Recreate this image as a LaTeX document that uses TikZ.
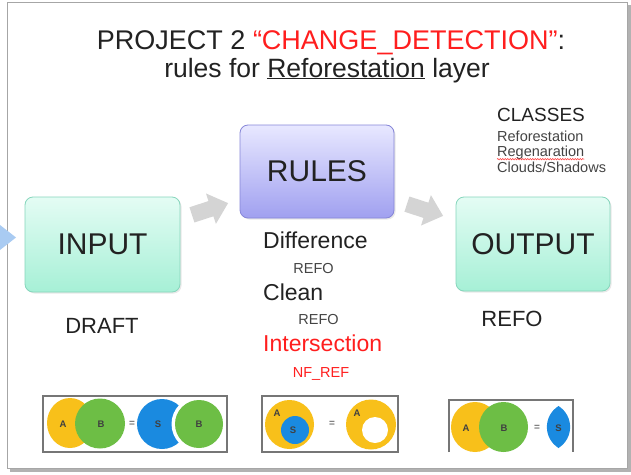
\documentclass[tikz,border=0pt]{standalone}
\usepackage{fontspec}
\setmainfont{Liberation Sans}
\usetikzlibrary{shadows,decorations.pathmorphing}
\definecolor{txt}{HTML}{222222}
\definecolor{txtsmall}{HTML}{444444}
\definecolor{redtxt}{HTML}{FF1E1E}
\definecolor{vyellow}{HTML}{F8C01A}
\definecolor{vgreen}{HTML}{6DBE45}
\definecolor{vblue}{HTML}{1A8AE0}
\definecolor{arrowgray}{HTML}{D4D4D4}
\definecolor{boxgray}{HTML}{767676}
\definecolor{mintTop}{HTML}{E4FCF4}
\definecolor{mintBot}{HTML}{A6F0D6}
\definecolor{mintLine}{HTML}{86D6BC}
\definecolor{lavTop}{HTML}{E8E8FF}
\definecolor{lavBot}{HTML}{A0A0F0}
\definecolor{lavLine}{HTML}{8686D8}
\definecolor{leftblue}{HTML}{A9CBF2}
\newcommand{\fs}[1]{\fontsize{#1}{#1}\selectfont}
\tikzset{
  greenbox/.style={draw=mintLine, line width=0.8pt, rounded corners=8pt,
    top color=mintTop, bottom color=mintBot,
    drop shadow={opacity=0.18, shadow xshift=1.5pt, shadow yshift=-1.5pt}},
  bluebox/.style={draw=lavLine, line width=0.8pt, rounded corners=8pt,
    top color=lavTop, bottom color=lavBot,
    drop shadow={opacity=0.18, shadow xshift=1.5pt, shadow yshift=-1.5pt}},
  boxlabel/.style={text=txt, font=\fs{30}},
  txtbig/.style={text=txt, font=\fs{22}, anchor=base},
  rulebig/.style={text=txt, font=\fs{23}, anchor=base west, inner sep=0pt},
  rulesmall/.style={text=txtsmall, font=\fs{14.5}, anchor=base},
  vennlbl/.style={text=black!75, font=\bfseries\fs{9.5}},
  venneq/.style={text=black!55, font=\bfseries\fs{10}},
  vennframe/.style={draw=boxgray, line width=1.4pt},
  blockarrow/.style={fill=arrowgray},
}
\begin{document}
\begin{tikzpicture}[x=1pt,y=-1pt]
\useasboundingbox (0,0) rectangle (631,474);
% slide frame with shadow
\fill[black!30] (10,5) rectangle (631,472);
\fill[white] (7,2) rectangle (627,468);
\draw[black!35, line width=1pt] (7,2) rectangle (627,468);
% partial blue arrow at left
\fill[leftblue] (0,225) -- (16,237.5) -- (0,250) -- cycle;

% title
\node[anchor=base, text=txt, font=\fs{27}] (title1) at (331,49)
  {PROJECT 2 \textcolor{redtxt}{“CHANGE\_DETECTION”}:};
\node[anchor=base, text=txt, font=\fs{26.5}] (title2) at (327,77)
  {rules for \underline{Reforestation} layer};

% main boxes
\path[greenbox] (25,197) rectangle (180,292);
\node[boxlabel] (input) at (102.5,244.5) {INPUT};
\path[bluebox] (240,125) rectangle (394,218);
\node[boxlabel] (rules) at (317,171.5) {RULES};
\path[greenbox] (456,197) rectangle (610,291);
\node[boxlabel] (output) at (533,244) {OUTPUT};

% gray block arrows
\coordinate (arr1) at (210,209);
\coordinate (arr2) at (425,210);
\begin{scope}[shift={(arr1)}, rotate=18]
  \fill[blockarrow] (-19,-8) -- (1,-8) -- (1,-16) -- (19,0) -- (1,16) -- (1,8) -- (-19,8) -- cycle;
\end{scope}
\begin{scope}[shift={(arr2)}, rotate=-18]
  \fill[blockarrow] (-19,-8) -- (1,-8) -- (1,-16) -- (19,0) -- (1,16) -- (1,8) -- (-19,8) -- cycle;
\end{scope}

% texts under boxes
\node[txtbig] (draft) at (102,333) {DRAFT};
\node[txtbig] (refoout) at (512,326) {REFO};
\node[rulebig] (diff) at (263,248.2) {Difference};
\node[rulesmall] (refo1) at (313.5,273.2) {REFO};
\node[rulebig] (clean) at (263,300.2) {Clean};
\node[rulesmall] (refo2) at (318.5,324.2) {REFO};
\node[rulebig, text=redtxt] (inter) at (263,351.2) {Intersection};
\node[rulesmall, text=redtxt] (nfref) at (321,377.2) {NF\_REF};

% classes
\node[anchor=base west, text=txt, font=\fs{19}, inner sep=0pt] (classes) at (497,121.8) {CLASSES};
\node[anchor=base west, text=txtsmall, font=\fs{14.5}, inner sep=0pt] (c1) at (497,141.2) {Reforestation};
\node[anchor=base west, text=txtsmall, font=\fs{14.5}, inner sep=0pt] (c2) at (497,156.7) {Regenaration};
\node[anchor=base west, text=txtsmall, font=\fs{14.5}, inner sep=0pt] (c3) at (497,172.2) {Clouds/Shadows};
\draw[red!80, line width=0.5pt, decorate, decoration={snake, amplitude=0.7pt, segment length=2.5pt}]
  ([yshift=-2.5pt]c2.base west) -- ([yshift=-2.5pt]c2.base east);

% venn box 1: A - B = S
\fill[vyellow] (70,423) ellipse [x radius=23, y radius=25];
\fill[vgreen] (100,423.5) circle [radius=25];
\node[vennlbl] (a1) at (63,424) {A};
\node[vennlbl] (b1) at (101,424) {B};
\node[venneq] (eq1) at (132,423.5) {=};
\fill[vblue] (162,424) circle [radius=25];
\fill[white] (199,424) circle [radius=27.5];
\fill[vgreen] (199,424) circle [radius=24];
\node[vennlbl] (s1) at (158,424) {S};
\node[vennlbl] (b2) at (199,424) {B};
\draw[vennframe] (43,396) rectangle (227,452);

% venn box 2: A - S
\fill[vyellow] (289.5,424.5) circle [radius=24.5];
\fill[vblue] (295,430) circle [radius=14];
\node[vennlbl] (a2) at (277,413) {A};
\node[vennlbl] (s2) at (293,430.5) {S};
\node[venneq] (eq2) at (332,423.5) {=};
\fill[vyellow] (371,424.5) circle [radius=25];
\fill[white] (375,430) circle [radius=13];
\node[vennlbl] (a3) at (357,413) {A};
\draw[vennframe] (262,396) rectangle (398,452);

% venn box 3: intersection
\fill[vyellow] (475,427) ellipse [x radius=24, y radius=25];
\fill[vgreen] (503.5,427) ellipse [x radius=24.5, y radius=25];
\node[vennlbl] (a4) at (466,428) {A};
\node[vennlbl] (b3) at (504,428) {B};
\node[venneq] (eq3) at (537,427.5) {=};
\fill[vblue] (558.5,406) .. controls (574,416) and (574,438) .. (558.5,448)
  .. controls (543,438) and (543,416) .. (558.5,406) -- cycle;
\node[vennlbl] (s3) at (558.5,428) {S};
\draw[vennframe] (449,452) -- (449,400) -- (573,400) -- (573,452);
\end{tikzpicture}
\end{document}
